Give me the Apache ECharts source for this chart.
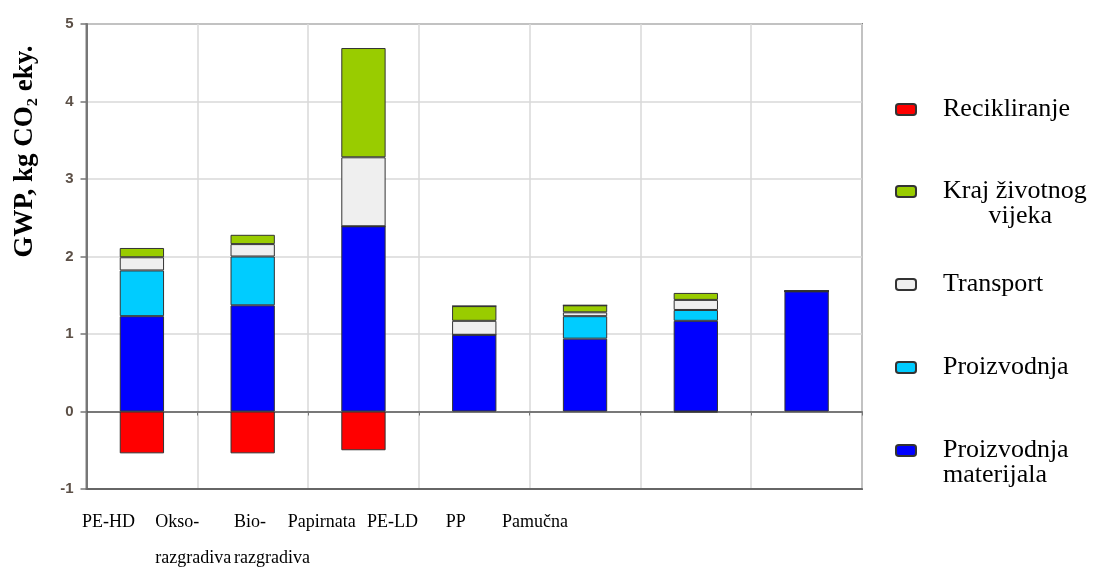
<!DOCTYPE html>
<html>
<head>
<meta charset="utf-8">
<script src="https://cdn.jsdelivr.net/npm/echarts@6/dist/echarts.min.js"></script>
<style>html,body{margin:0;padding:0;background:#fff;overflow:hidden}#c{width:1099px;height:574px}</style>
</head>
<body>
<div id="c"></div>
<script>
// ---- data ----
var categories = ['PE-HD', 'Okso-\nrazgradiva', 'Bio-\nrazgradiva', 'Papirnata', 'PE-LD', 'PP', 'Pamučna'];
var proizvodnjaMaterijala = [1.23, 1.37, 2.39, 0.99, 0.94, 1.17, 1.55];
var proizvodnja           = [0.59, 0.63, 0.00, 0.00, 0.29, 0.14, 0.00];
var transport             = [0.17, 0.16, 0.89, 0.18, 0.05, 0.13, 0.00];
var krajZivotnogVijeka    = [0.12, 0.12, 1.41, 0.19, 0.09, 0.09, 0.01];
var recikliranje          = [-0.54, -0.54, -0.50, 0.00, 0.00, -0.01, 0.00];
var yTicks = [-1, 0, 1, 2, 3, 4, 5];
var legendNames = ['Recikliranje', 'Kraj životnog vijeka', 'Transport', 'Proizvodnja', 'Proizvodnja materijala'];

// ---- styling ----
var serif = '"Liberation Serif", "Times New Roman", serif';
var labelRightPad = [30, 105, 169, 283, 346, 410, 519];
var labelBoxWidth = 90;
var rich = {};
labelRightPad.forEach(function (p, i) {
  rich['c' + i] = { width: labelBoxWidth, align: 'left', padding: [0, p, 0, 0],
    fontFamily: serif, fontSize: 18, color: '#000', lineHeight: 36 };
});
// leading blank line keeps the marker level with the first text line
var legendText = {
  'Kraj životnog vijeka': '\nKraj životnog\n       vijeka',
  'Proizvodnja materijala': '\nProizvodnja\nmaterijala'
};
var legendTops = [91.5, 148.5, 266.5, 349.5, 407.5];
var legends = legendNames.map(function (n, i) {
  return {
    orient: 'vertical', left: 890, top: legendTops[i],
    itemWidth: 20, itemHeight: 11,
    data: [n],
    formatter: function (name) { return legendText[name] || name; },
    textStyle: { fontFamily: serif, fontSize: 26, color: '#000', lineHeight: 25, padding: [0, 0, 0, 22] }
  };
});
function bar(name, data, color) {
  return { name: name, type: 'bar', stack: 'gwp', data: data, barWidth: '40%',
    itemStyle: { color: color, borderColor: '#333', borderWidth: 1 } };
}

var chart = echarts.init(document.getElementById('c'));
chart.setOption({
  animation: false,
  backgroundColor: '#fff',
  grid: { left: 86.5, width: 775.5, top: 24, bottom: 85, show: true, containLabel: false,
    outerBoundsMode: 'none',
    borderColor: '#808080', borderWidth: 2, backgroundColor: 'transparent' },
  legend: legends,
  xAxis: [
    { type: 'category', data: categories, position: 'bottom',
      axisLine: { onZero: false, lineStyle: { color: '#666', width: 2 } },
      axisTick: { show: false },
      splitLine: { show: true, lineStyle: { color: '#d9d9d9', width: 1.5 } },
      axisLabel: { interval: 0, margin: 15, hideOverlap: false,
        formatter: function (v, i) {
          return v.split('\n').map(function (s) { return '{c' + i + '|' + s + '}'; }).join('\n');
        },
        rich: rich }
    },
    { type: 'category', data: categories, position: 'bottom',
      axisLine: { onZero: true, lineStyle: { color: '#555', width: 1.5 } },
      axisTick: { show: true, length: 4, lineStyle: { color: '#777' } },
      axisLabel: { show: false }, splitLine: { show: false } }
  ],
  yAxis: {
    type: 'value', min: yTicks[0], max: yTicks[yTicks.length - 1], interval: 1,
    name: 'GWP, kg CO₂ eky.', nameLocation: 'middle', nameGap: 48,
    nameTextStyle: { fontFamily: serif, fontSize: 27, fontWeight: 'bold', color: '#000', padding: [0, 0, 0, 210] },
    axisLine: { show: true, lineStyle: { color: '#777', width: 2 } },
    axisTick: { show: true, length: 6, lineStyle: { color: '#777', width: 1.5 } },
    axisLabel: { margin: 13, fontFamily: 'Liberation Sans, Arial, sans-serif', fontSize: 15, fontWeight: 'bold', color: '#5c5047' },
    splitLine: { show: true, lineStyle: { color: '#d9d9d9', width: 1.5 } }
  },
  series: [
    bar('Proizvodnja materijala', proizvodnjaMaterijala, '#0000ff'),
    bar('Proizvodnja', proizvodnja, '#00ccff'),
    bar('Transport', transport, '#efefef'),
    bar('Kraj životnog vijeka', krajZivotnogVijeka, '#99cc00'),
    bar('Recikliranje', recikliranje, '#ff0000')
  ]
});
</script>
</body>
</html>
